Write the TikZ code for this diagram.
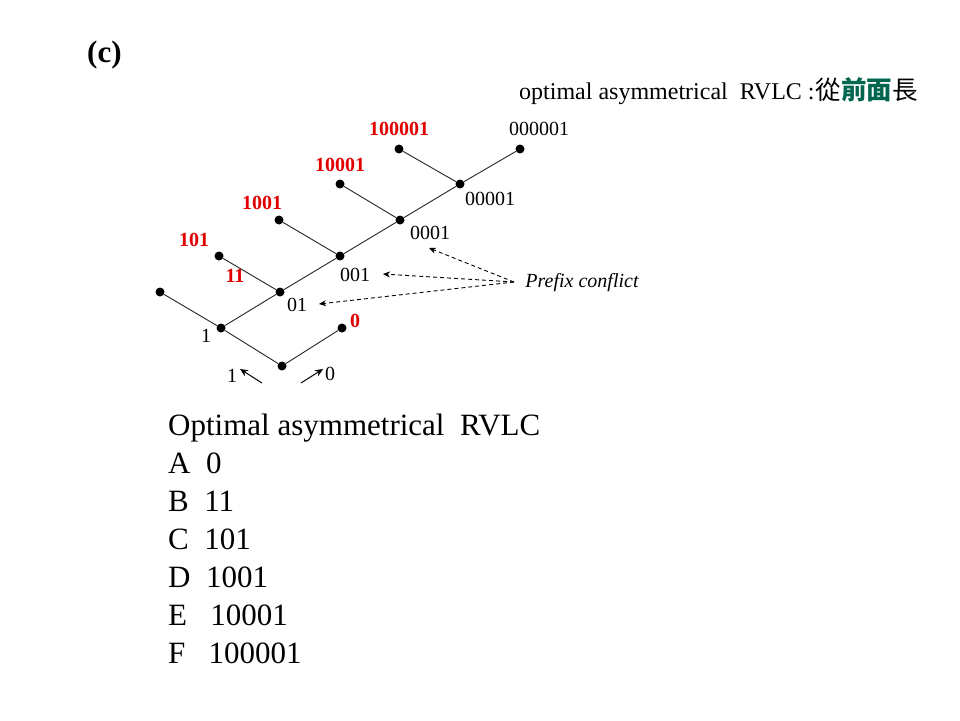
\documentclass[tikz,border=0pt]{standalone}
\usepackage{fontspec}
\setmainfont{Liberation Serif}
\newfontfamily\cjk{Noto Sans CJK TC}
\usetikzlibrary{arrows.meta}
\definecolor{codered}{RGB}{225,0,0}
\definecolor{cjkgreen}{RGB}{0,102,80}
\tikzset{
  dotnode/.style={circle,fill=black,inner sep=0pt,minimum size=9pt},
  edge/.style={draw=black!85,line width=0.9pt},
  lbl/.style={inner sep=0pt,font=\fontsize{20}{22}\selectfont},
  redlbl/.style={inner sep=0pt,text=codered,font=\fontsize{20}{22}\selectfont\bfseries},
  conflict/.style={draw=black,dashed,line width=0.9pt,dash pattern=on 4pt off 3pt,-{Stealth[length=7pt,width=6pt]}},
  dirarrow/.style={draw=black,line width=1pt,-{Stealth[length=8pt,width=7pt]}},
  bodytext/.style={anchor=base west,inner sep=0pt,font=\fontsize{31}{36}\selectfont}
}
\begin{document}
\begin{tikzpicture}[x=1pt,y=-1pt]
\useasboundingbox[fill=white] (0,0) rectangle (960,720);
% heading
\node[anchor=base west,inner sep=0pt,font=\fontsize{31}{36}\selectfont\bfseries] (lab) at (87,62) {(c)};
\node[anchor=base west,inner sep=0pt,font=\fontsize{24}{26}\selectfont] (title) at (519,99)
  {optimal asymmetrical\ \ RVLC :\hspace{1pt}{\cjk\fontsize{25.5}{27}\selectfont 從{\bfseries\color{cjkgreen}前面}長}};
% tree nodes
\node[dotnode] (root) at (282,366) {};
\node[dotnode] (n1) at (221,328) {};
\node[dotnode] (l0) at (342,328) {};
\node[dotnode] (lA) at (160,292) {};
\node[dotnode] (n01) at (280,292) {};
\node[dotnode] (l101) at (219,256) {};
\node[dotnode] (n001) at (340,256) {};
\node[dotnode] (l1001) at (279,220) {};
\node[dotnode] (n0001) at (400,220) {};
\node[dotnode] (l10001) at (340,184) {};
\node[dotnode] (n00001) at (460,184) {};
\node[dotnode] (l100001) at (399,149) {};
\node[dotnode] (l000001) at (520,149) {};
% tree edges
\draw[edge] (root) -- (n1);
\draw[edge] (root) -- (l0);
\draw[edge] (n1) -- (lA);
\draw[edge] (n1) -- (n01);
\draw[edge] (n01) -- (l101);
\draw[edge] (n01) -- (n001);
\draw[edge] (n001) -- (l1001);
\draw[edge] (n001) -- (n0001);
\draw[edge] (n0001) -- (l10001);
\draw[edge] (n0001) -- (n00001);
\draw[edge] (n00001) -- (l100001);
\draw[edge] (n00001) -- (l000001);
% labels
\node[redlbl] (t100001) at (399,129) {100001};
\node[lbl] (t000001) at (539,129) {000001};
\node[redlbl] (t10001) at (340,165) {10001};
\node[lbl] (t00001) at (490,199) {00001};
\node[redlbl] (t1001) at (262,203) {1001};
\node[lbl] (t0001) at (430,233) {0001};
\node[redlbl] (t101) at (194,240) {101};
\node[redlbl] (t11) at (235,276) {11};
\node[lbl] (t001) at (355,275) {001};
\node[lbl] (t01) at (297,305) {01};
\node[redlbl] (t0) at (355,321) {0};
\node[lbl] (t1) at (206,336) {1};
% direction arrows
\node[lbl] (b1) at (232,376) {1};
\node[lbl] (b0) at (330,374) {0};
\coordinate (bl0) at (262,383);
\coordinate (bl1) at (240,369);
\coordinate (br0) at (301,383);
\coordinate (br1) at (323,369);
\draw[dirarrow] (bl0) -- (bl1);
\draw[dirarrow] (br0) -- (br1);
% prefix conflict
\node[lbl,font=\fontsize{20}{22}\selectfont\itshape] (pc) at (582,283) {Prefix conflict};
\coordinate (pcs) at (514,282);
\coordinate (e1) at (429,248);
\coordinate (e2) at (383,274);
\coordinate (e3) at (319,304);
\draw[conflict] (pcs) -- (e1);
\draw[conflict] (pcs) -- (e2);
\draw[conflict] (pcs) -- (e3);
% code table
\node[bodytext] (h) at (168,435) {Optimal asymmetrical\ \ RVLC};
\node[bodytext] (cA) at (168,473) {A\ \ 0};
\node[bodytext] (cB) at (168,511) {B\ \ 11};
\node[bodytext] (cC) at (168,549) {C\ \ 101};
\node[bodytext] (cD) at (168,587) {D\ \ 1001};
\node[bodytext] (cE) at (168,625) {E\ \ \ 10001};
\node[bodytext] (cF) at (168,663) {F\ \ \ 100001};
\end{tikzpicture}
\end{document}
